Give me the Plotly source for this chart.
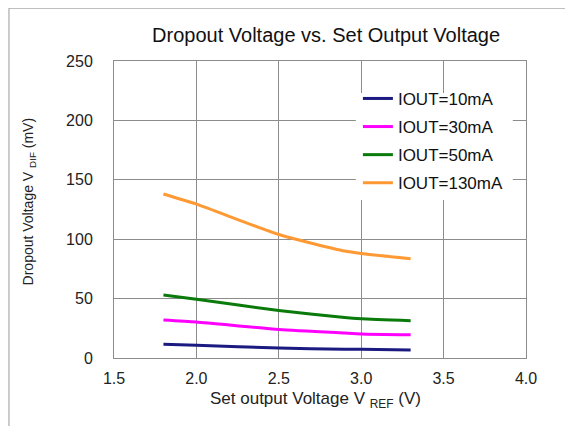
import plotly.graph_objects as go

set_voltage = [1.8, 2.0, 2.5, 2.9, 3.0, 3.3]

iout_10ma = [11.5, 10.8, 8.4, 7.4, 7.3, 6.8]
iout_30ma = [32.0, 30.3, 24.0, 21.0, 20.3, 19.6]
iout_50ma = [53.0, 49.4, 40.0, 34.0, 33.0, 31.4]
iout_130ma = [138.0, 129.5, 104.0, 90.0, 88.0, 83.6]

series = [
    ("IOUT=10mA", iout_10ma, "#1a1a80"),
    ("IOUT=30mA", iout_30ma, "#ff00ff"),
    ("IOUT=50mA", iout_50ma, "#0a7a0a"),
    ("IOUT=130mA", iout_130ma, "#ff9933"),
]

fig = go.Figure()
for name, values, color in series:
    fig.add_trace(go.Scatter(
        x=set_voltage, y=values, name=name, mode="lines",
        line=dict(color=color, width=3, shape="spline", smoothing=0.6),
        legendgroup=name,
    ))

# the page body adds an 8px margin, so the figure is 8px smaller and margins shifted
fig.update_layout(
    width=565, height=418,
    margin=dict(l=106, r=47, t=53, b=68, autoexpand=False),
    paper_bgcolor="white", plot_bgcolor="white",
    font=dict(family="Liberation Sans, Arial", size=16, color="#222"),
    title=dict(text="Dropout Voltage vs. Set Output Voltage", x=0.563, xanchor="center",
               y=0.935, yanchor="middle", font=dict(size=20, color="#111")),
    showlegend=True,
    legend=dict(x=0.592, y=0.933, xanchor="left", yanchor="top", bgcolor="rgba(0,0,0,0)",
                font=dict(size=17, color="#111"), traceorder="grouped",
                tracegroupgap=3, itemwidth=30),
    shapes=[
        dict(type="path", xref="paper", yref="paper",
             path="M 1.2 1.178 L -0.2549 1.178 L -0.2549 -0.25",
             line=dict(color="#999", width=1)),
        # white patch behind the legend, hiding the grid
        dict(type="rect", xref="paper", yref="paper", layer="above",
             x0=0.587, x1=0.968, y0=0.532, y1=0.892,
             fillcolor="white", line=dict(width=0)),
    ],
    annotations=[
        dict(text="Dropout Voltage V <sub>DIF</sub> (mV)", textangle=-90,
             xref="paper", yref="paper", x=-0.204, y=0.527,
             xanchor="center", yanchor="middle", showarrow=False,
             font=dict(size=14, color="#222")),
        dict(text="Set output Voltage V <sub>REF</sub> (V)",
             xref="paper", yref="paper", x=0.49, y=-0.141,
             xanchor="center", yanchor="middle", showarrow=False,
             font=dict(size=17, color="#222")),
    ],
)
fig.update_xaxes(range=[1.5, 4.0], tickvals=[1.5, 2.0, 2.5, 3.0, 3.5, 4.0],
                 ticktext=["1.5", "2.0", "2.5", "3.0", "3.5", "4.0"],
                 showgrid=True, gridcolor="#8c8c8c", gridwidth=1,
                 showline=True, linecolor="#8c8c8c", mirror=True, zeroline=False,
                 ticks="", ticklen=0, ticklabelstandoff=6, automargin=False)
fig.update_yaxes(range=[0, 250], tickvals=[0, 50, 100, 150, 200, 250],
                 showgrid=True, gridcolor="#8c8c8c", gridwidth=1,
                 showline=True, linecolor="#8c8c8c", mirror=True, zeroline=False,
                 ticks="", ticklen=0, ticklabelstandoff=17, automargin=False)

fig.write_html("out.html")
